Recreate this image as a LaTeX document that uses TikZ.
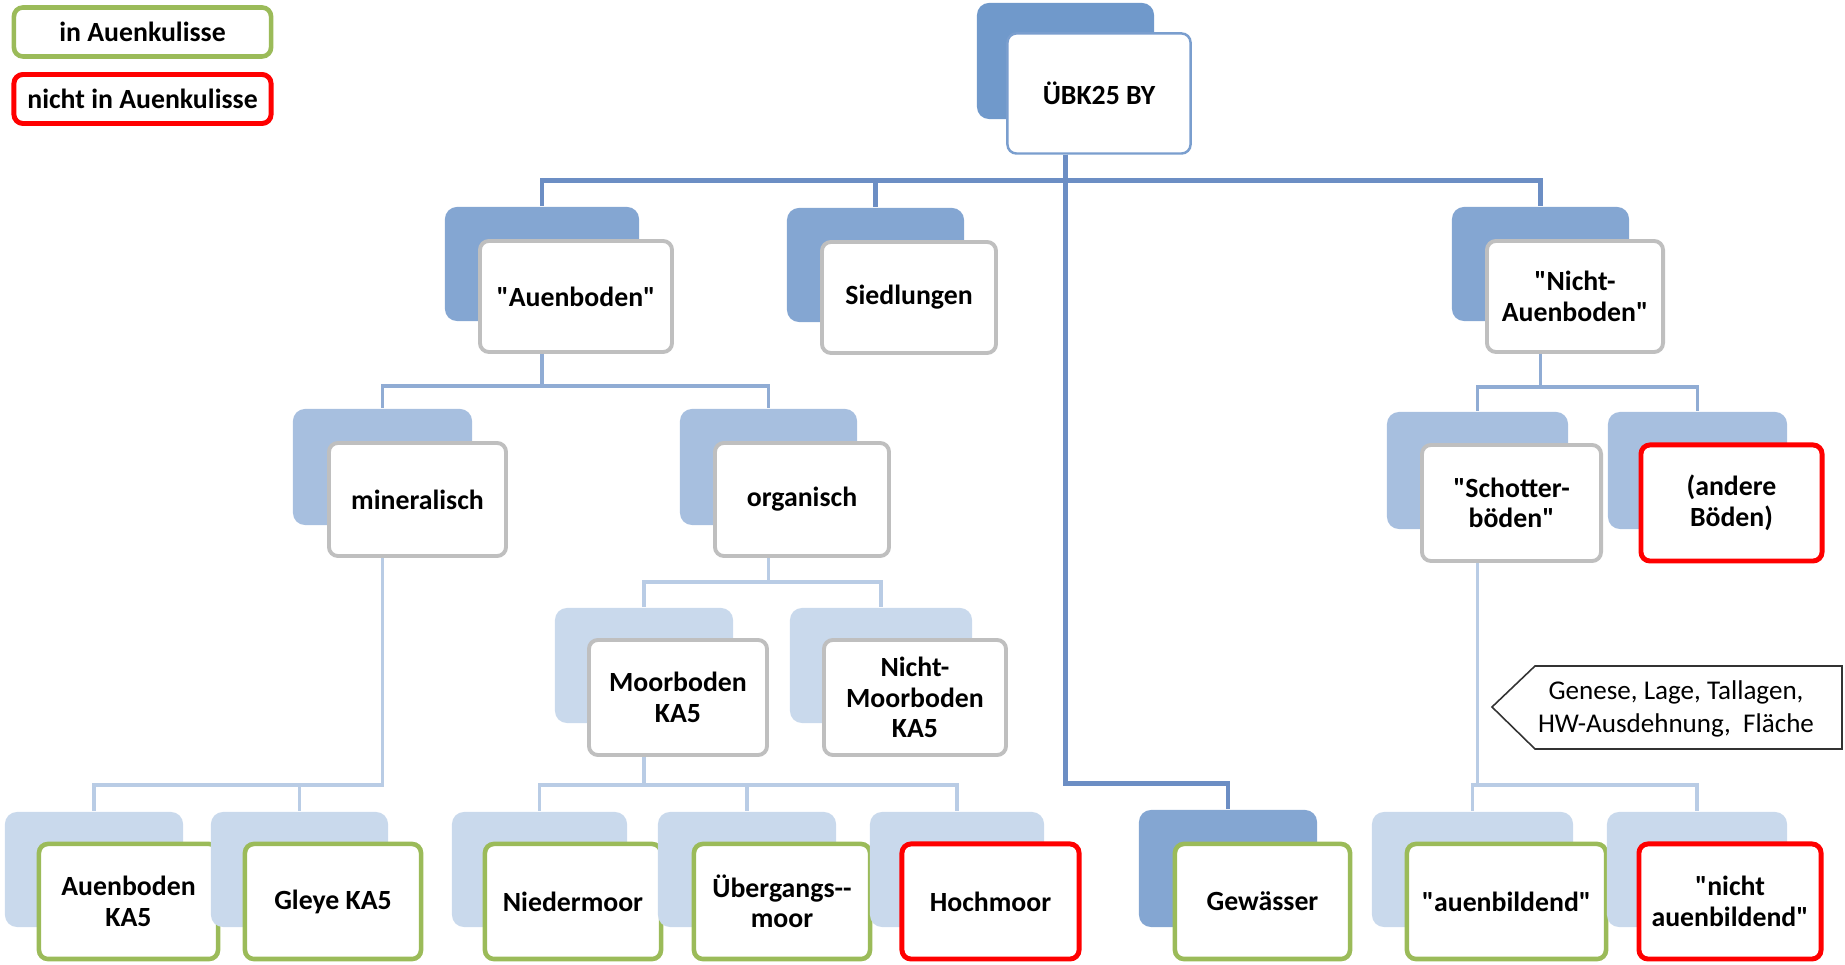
\documentclass[tikz,border=0pt]{standalone}
\usepackage{fontspec}
\setmainfont{Carlito}[Ligatures=TeXOff]
\definecolor{bkA}{RGB}{112,153,203}
\definecolor{bkB}{RGB}{132,166,210}
\definecolor{bkC}{RGB}{167,191,223}
\definecolor{bkD}{RGB}{201,217,236}
\definecolor{lnA}{RGB}{108,142,196}
\definecolor{lnB}{RGB}{144,172,212}
\definecolor{lnC}{RGB}{185,204,229}
\definecolor{boxgray}{RGB}{191,191,191}
\definecolor{rootblue}{RGB}{122,158,206}
\definecolor{kulgreen}{RGB}{155,187,89}
\definecolor{kulred}{RGB}{255,0,0}
\tikzstyle{back}=[
        rounded corners=0.12cm,
        inner sep=0pt
]
\tikzstyle{backA}=[back, fill=bkA]
\tikzstyle{backB}=[back, fill=bkB]
\tikzstyle{backC}=[back, fill=bkC]
\tikzstyle{backD}=[back, fill=bkD]
\tikzstyle{box}=[
        draw=boxgray,
        line width=1.1pt,
        fill=white,
        rounded corners=0.09cm,
        inner sep=0pt,
        align=center,
        font=\fontsize{7.9}{8.7}\selectfont\bfseries
]
\tikzstyle{rootbox}=[box, draw=rootblue, line width=0.7pt]
\tikzstyle{inkul}=[box, draw=kulgreen, line width=1.3pt]
\tikzstyle{outkul}=[box, draw=kulred, line width=1.4pt]
\tikzstyle{linkA}=[draw=lnA, line width=1.4pt]
\tikzstyle{linkB}=[draw=lnB, line width=1.1pt]
\tikzstyle{linkC}=[draw=lnC, line width=1.1pt]
\tikzstyle{note}=[
        draw=black!80,
        line width=0.45pt,
        fill=white
]

\begin{document}
\begin{tikzpicture}[x=0.01cm, y=-0.01cm]
                        \useasboundingbox (0,0) rectangle (1845,965);

                        % legend
                        \node[inkul, minimum width=2.57cm, minimum height=0.49cm] (legin) at (142.5,32) {in Auenkulisse};
                        \node[outkul, minimum width=2.57cm, minimum height=0.49cm] (legout) at (142.5,99) {nicht in Auenkulisse};

                        % top
                        \node[backA, minimum width=1.77cm, minimum height=1.16cm] (ubkB) at (1065.5,61) {};
                        \node[rootbox, minimum width=1.83cm, minimum height=1.20cm] (ubkF) at (1099,93.5) {ÜBK25 BY};

                        % second row
                        \node[backB, minimum width=1.94cm, minimum height=1.14cm] (aueB) at (542,264) {};
                        \node[box, minimum width=1.92cm, minimum height=1.11cm] (aueF) at (576,296.5) {"Auenboden"};

                        \node[backB, minimum width=1.77cm, minimum height=1.14cm] (sieB) at (875.5,265) {};
                        \node[box, minimum width=1.74cm, minimum height=1.11cm] (sieF) at (909,297.5) {Siedlungen};

                        \node[backB, minimum width=1.77cm, minimum height=1.14cm] (nabB) at (1540.5,264) {};
                        \node[box, minimum width=1.76cm, minimum height=1.11cm] (nabF) at (1575,296.5) {"Nicht-\\Auenboden"};

                        % third row
                        \node[backC, minimum width=1.79cm, minimum height=1.16cm] (minB) at (382.5,467) {};
                        \node[box, minimum width=1.77cm, minimum height=1.13cm] (minF) at (417.5,499.5) {mineralisch};

                        \node[backC, minimum width=1.77cm, minimum height=1.16cm] (orgB) at (768.5,467) {};
                        \node[box, minimum width=1.74cm, minimum height=1.13cm] (orgF) at (802,499.5) {organisch};

                        \node[backC, minimum width=1.81cm, minimum height=1.17cm] (schB) at (1477.5,470.5) {};
                        \node[box, minimum width=1.79cm, minimum height=1.16cm] (schF) at (1511.5,503) {"Schotter-\\böden"};

                        \node[backC, minimum width=1.79cm, minimum height=1.17cm] (adbB) at (1697.5,470.5) {};
                        \node[outkul, minimum width=1.81cm, minimum height=1.16cm] (adbF) at (1731.5,503) {(andere\\Böden)};

                        % moor
                        \node[backD, minimum width=1.78cm, minimum height=1.15cm] (mooB) at (644,665.5) {};
                        \node[box, minimum width=1.78cm, minimum height=1.15cm] (mooF) at (678,697.5) {Moorboden\\KA5};

                        \node[backD, minimum width=1.82cm, minimum height=1.15cm] (nmoB) at (881,665.5) {};
                        \node[box, minimum width=1.82cm, minimum height=1.15cm] (nmoF) at (915,697.5) {Nicht-\\Moorboden\\KA5};

                        % bottom row
                        \node[backD, minimum width=1.78cm, minimum height=1.15cm] (akfB) at (94,869.5) {};
                        \node[inkul, minimum width=1.79cm, minimum height=1.15cm] (akfF) at (128.5,901.5) {Auenboden\\KA5};

                        \node[backD, minimum width=1.77cm, minimum height=1.15cm] (glyB) at (299.5,869.5) {};
                        \node[inkul, minimum width=1.76cm, minimum height=1.15cm] (glyF) at (333,901.5) {Gleye KA5};

                        \node[backD, minimum width=1.75cm, minimum height=1.15cm] (nieB) at (539.5,869.5) {};
                        \node[inkul, minimum width=1.76cm, minimum height=1.15cm] (nieF) at (573,901.5) {Niedermoor};

                        \node[backD, minimum width=1.78cm, minimum height=1.15cm] (uebB) at (747,869.5) {};
                        \node[inkul, minimum width=1.76cm, minimum height=1.15cm] (uebF) at (782,901.5) {Übergangs-{}-\\moor};

                        \node[backD, minimum width=1.74cm, minimum height=1.15cm] (hocB) at (957,869.5) {};
                        \node[outkul, minimum width=1.77cm, minimum height=1.15cm] (hocF) at (990.5,901.5) {Hochmoor};

                        \node[backB, minimum width=1.78cm, minimum height=1.17cm] (gewB) at (1228,868.5) {};
                        \node[inkul, minimum width=1.75cm, minimum height=1.15cm] (gewF) at (1262.5,901.5) {Gewässer};

                        \node[backD, minimum width=2.01cm, minimum height=1.15cm] (aubB) at (1472.5,869.5) {};
                        \node[inkul, minimum width=1.99cm, minimum height=1.15cm] (aubF) at (1506.5,901.5) {"auenbildend"};

                        \node[backD, minimum width=1.80cm, minimum height=1.15cm] (nauB) at (1697,869.5) {};
                        \node[outkul, minimum width=1.82cm, minimum height=1.15cm] (nauF) at (1730,901.5) {"nicht\\auenbildend"};

                        % connectors
                        \draw[linkA] (ubkB |- ubkF.south) -- ++(0,26) -| (aueB.north);
                        \draw[linkA] (ubkB |- ubkF.south) -- ++(0,26) -| (sieB.north);
                        \draw[linkA] (ubkB |- ubkF.south) -- ++(0,26) -| (nabB.north);
                        \draw[linkA] (ubkB |- ubkF.south) -- ++(0,629) -| (gewB.north);

                        \draw[linkB] (aueB |- aueF.south) -- ++(0,32) -| (minB.north);
                        \draw[linkB] (aueB |- aueF.south) -- ++(0,32) -| (orgB.north);
                        \draw[linkB] (nabB |- nabF.south) -- ++(0,33) -| (schB.north);
                        \draw[linkB] (nabB |- nabF.south) -- ++(0,33) -| (adbB.north);

                        \draw[linkC] (orgB |- orgF.south) -- ++(0,24) -| (mooB.north);
                        \draw[linkC] (orgB |- orgF.south) -- ++(0,24) -| (nmoB.north);
                        \draw[linkC] (minB |- minF.south) -- ++(0,227) -| (akfB.north);
                        \draw[linkC] (minB |- minF.south) -- ++(0,227) -| (glyB.north);
                        \draw[linkC] (mooB |- mooF.south) -- ++(0,28) -| (nieB.north);
                        \draw[linkC] (mooB |- mooF.south) -- ++(0,28) -| (uebB.north);
                        \draw[linkC] (mooB |- mooF.south) -- ++(0,28) -| (hocB.north);
                        \draw[linkC] (schB |- schF.south) -- ++(0,222) -| (aubB.north);
                        \draw[linkC] (schB |- schF.south) -- ++(0,222) -| (nauB.north);

                        % criteria
                        \draw[note] (1492,707) -- (1535,666) -- (1842,666) -- (1842,749) -- (1535,749) -- cycle;
                        \node[align=center, inner sep=0pt, font=\fontsize{7.7}{9.3}\selectfont] (crit) at (1676,709) {Genese, Lage, Tallagen,\\HW-Ausdehnung,\ \ Fläche};

                    \end{tikzpicture}
\end{document}
